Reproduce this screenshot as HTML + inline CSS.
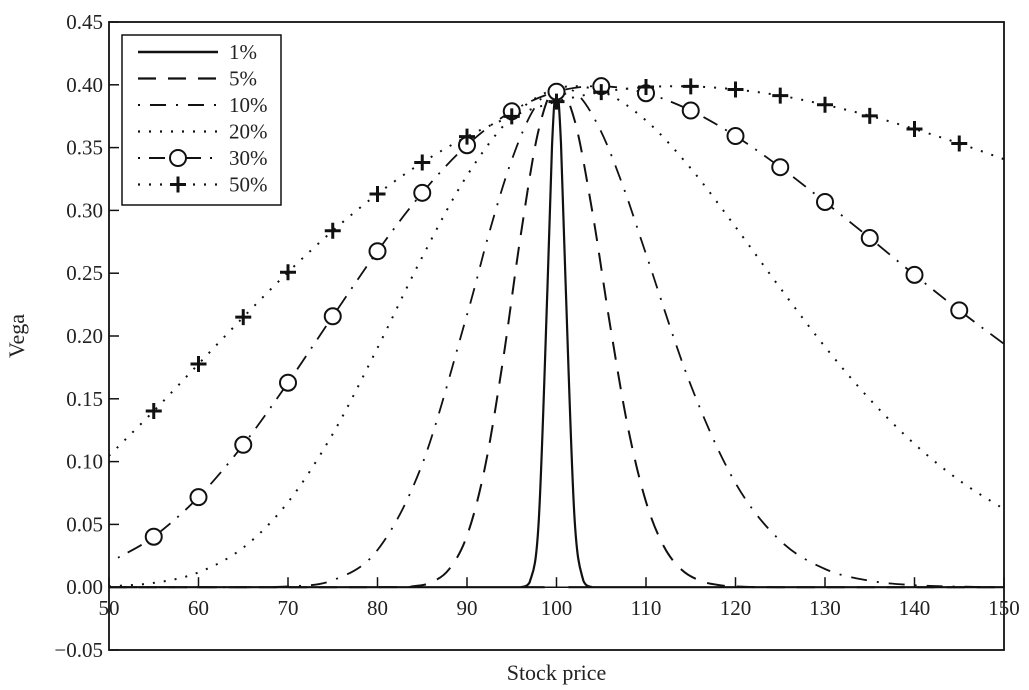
<!DOCTYPE html>
<html><head><meta charset="utf-8"><style>
body{margin:0;background:#fff;}
svg{display:block;font-family:"Liberation Serif",serif;}
</style></head><body>
<svg id="chart" width="1029" height="690" viewBox="0 0 1029 690"></svg>
<script>
const xTicks=[50,60,70,80,90,100,110,120,130,140,150];
const yTicks=[-0.05,0.00,0.05,0.10,0.15,0.20,0.25,0.30,0.35,0.40,0.45];
const seriesLabels=["1%","5%","10%","20%","30%","50%"];
const s1x=[50,95,96,97,98,99,99.5,100,100.5,101,102,103,104,105,150];
const s1y=[0,0,0,0.0038,0.0509,0.2395,0.351,0.3989,0.353,0.2445,0.0568,0.0051,0,0,0];
const s5x=[50,80,84,86,88,90,92,94,96,98,100,102,104,106,108,110,112,114,116,118,120,125,150];
const s5y=[0,0,0.0008,0.0039,0.0143,0.041,0.0952,0.1796,0.2801,0.3639,0.3988,0.3723,0.2991,0.2081,0.1266,0.068,0.0324,0.0138,0.0053,0.0018,0.0006,0,0];
const s10x=[50,65,70,75,80,85,90,92.5,95,97.5,100,102.5,105,107.5,110,115,120,125,130,135,140,145,150];
const s10y=[0,0,0.0006,0.0055,0.0296,0.0981,0.2169,0.2828,0.3403,0.381,0.3984,0.3913,0.3624,0.318,0.2653,0.1608,0.0829,0.037,0.0145,0.0051,0.0016,0.0005,0.0001];
const s20x=[50,55,60,65,70,75,80,85,90,95,100,105,110,115,120,125,130,135,140,145,150];
const s20y=[0.0007,0.0034,0.0118,0.0315,0.0677,0.1221,0.1905,0.263,0.3277,0.3743,0.397,0.3948,0.3716,0.3334,0.2869,0.2381,0.1914,0.1496,0.114,0.085,0.0622];
const s30x=[51,55,60,65,70,75,80,85,90,95,100,105,110,115,120,125,130,135,140,145,150];
const s30y=[0.0235,0.0402,0.0717,0.1134,0.1628,0.2157,0.2675,0.314,0.3519,0.3789,0.3945,0.3989,0.3933,0.3795,0.3592,0.3344,0.3067,0.278,0.2487,0.2204,0.1937];
const s50x=[50,55,60,65,70,75,80,85,90,95,100,105,110,115,120,125,130,135,140,145,150];
const s50y=[0.1046,0.1403,0.1777,0.215,0.2508,0.2838,0.3131,0.3381,0.3587,0.3749,0.3866,0.3942,0.3982,0.3987,0.3963,0.3914,0.3841,0.3753,0.3648,0.3533,0.3408];
const markerX=[55,60,65,70,75,80,85,90,95,100,105,110,115,120,125,130,135,140,145];

const NS="http://www.w3.org/2000/svg";
const svg=document.getElementById('chart');
const L=109,R=1004,T=22,B=650;
const xMin=50,xMax=150,yMin=-0.05,yMax=0.45;
const X=v=>L+(v-xMin)/(xMax-xMin)*(R-L);
const Y=v=>B-(v-yMin)/(yMax-yMin)*(B-T);
function mk(tag,attrs,parent){const e=document.createElementNS(NS,tag);for(const k in attrs)e.setAttribute(k,attrs[k]);(parent||svg).appendChild(e);return e;}
function interp(xs,ys,x){for(let i=0;i<xs.length-1;i++){if(x>=xs[i]&&x<=xs[i+1]){const t=(x-xs[i])/(xs[i+1]-xs[i]);return ys[i]+t*(ys[i+1]-ys[i]);}}return ys[ys.length-1];}
function pathD(xs,ys){
  const p=xs.map((x,i)=>[X(x),Y(ys[i])]);
  let d='M'+p[0][0].toFixed(1)+','+p[0][1].toFixed(1);
  for(let i=0;i<p.length-1;i++){
    const p0=p[Math.max(0,i-1)],p1=p[i],p2=p[i+1],p3=p[Math.min(p.length-1,i+2)];
    let c1y=p1[1]+(p2[1]-p0[1])/6,c2y=p2[1]-(p3[1]-p1[1])/6;
    const lo=Math.min(p1[1],p2[1]),hi=Math.max(p1[1],p2[1]);
    const B0=Y(0);c1y=Math.min(c1y,B0);c2y=Math.min(c2y,B0);
    d+=' C'+(p1[0]+(p2[0]-p0[0])/6).toFixed(1)+','+c1y.toFixed(1)+' '+(p2[0]-(p3[0]-p1[0])/6).toFixed(1)+','+c2y.toFixed(1)+' '+p2[0].toFixed(1)+','+p2[1].toFixed(1);
  }
  return d;
}
// frame
const frame=mk('rect',{x:L,y:T,width:R-L,height:B-T,fill:'none',stroke:'#111','stroke-width':1.8});


// zero axis
const zl=mk('line',{x1:L,x2:R,y1:Y(0),y2:Y(0),stroke:'#111','stroke-width':1.5});


// y ticks
yTicks.forEach(v=>{
  const t=mk('line',{x1:L,x2:L+10,y1:Y(v),y2:Y(v),stroke:'#111','stroke-width':1.5});
  
  
  const tx=mk('text',{x:L-6,y:Y(v)+7,'text-anchor':'end','font-size':21,fill:'#222'});
  tx.textContent=(v<0?'\u2212'+Math.abs(v).toFixed(2):v.toFixed(2));
  
  
});
xTicks.forEach(v=>{
  const t=mk('line',{x1:X(v),x2:X(v),y1:Y(0),y2:Y(0)-10,stroke:'#111','stroke-width':1.5});
  
  
  const tx=mk('text',{x:X(v),y:Y(0)+28,'text-anchor':'middle','font-size':21,fill:'#222'});
  tx.textContent=v;
  
  
});
const xt=mk('text',{x:(L+R)/2,y:680,'text-anchor':'middle','font-size':22,fill:'#222'});
xt.textContent='Stock price';


const yt=mk('text',{x:24,y:336,'text-anchor':'middle','font-size':22,fill:'#222',transform:'rotate(-90 24 336)'});
yt.textContent='Vega';



const styles=[
 {d:'none',w:2.2},
 {d:'18 12',w:2},
 {d:'2 10 16 10',w:1.8},
 {d:'2 9',w:2},
 {d:'2 9 16 9',w:1.8},
 {d:'2 9',w:2}
];
const data=[[s1x,s1y],[s5x,s5y],[s10x,s10y],[s20x,s20y],[s30x,s30y],[s50x,s50y]];
data.forEach((s,i)=>{
  const p=mk('path',{d:pathD(s[0],s[1]),fill:'none',stroke:'#111','stroke-width':styles[i].w,'stroke-dasharray':styles[i].d});
  
  
});
markerX.forEach(x=>{
  const c=mk('circle',{cx:X(x),cy:Y(interp(s30x,s30y,x)),r:8,fill:'#fff',stroke:'#111','stroke-width':2});
  
  
  const px=X(x),py=Y(interp(s50x,s50y,x));
  const m=mk('path',{d:`M${px-8},${py}H${px+8}M${px},${py-8}V${py+8}`,stroke:'#111','stroke-width':3});
  
  
});
// legend
const lg=mk('g',{});


mk('rect',{x:122,y:35,width:159,height:170,fill:'#fff',stroke:'#111','stroke-width':1.5},lg);
seriesLabels.forEach((lab,i)=>{
  const y=52+i*26.5;
  const e=mk('g',{},lg);
  
  
  mk('line',{x1:138,x2:218,y1:y,y2:y,stroke:'#111','stroke-width':styles[i].w+0.3,'stroke-dasharray':styles[i].d},e);
  if(i==4)mk('circle',{cx:178,cy:y,r:8,fill:'#fff',stroke:'#111','stroke-width':2},e);
  if(i==5)mk('path',{d:`M170,${y}H186M178,${y-8}V${y+8}`,stroke:'#111','stroke-width':3},e);
  const t=mk('text',{x:229,y:y+7,'font-size':21,fill:'#222'},e);
  t.textContent=lab;
});
</script>
</body></html>
